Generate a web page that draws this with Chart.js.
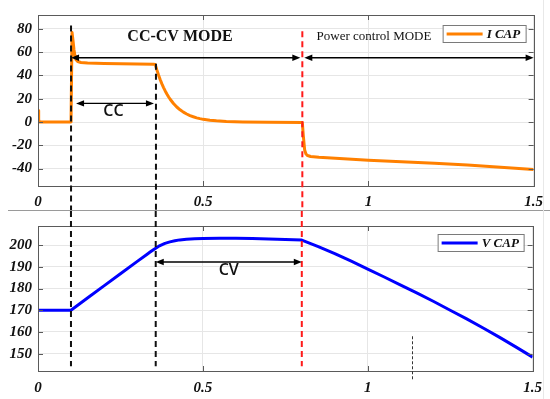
<!DOCTYPE html>
<html>
<head>
<meta charset="utf-8">
<script src="https://cdn.jsdelivr.net/npm/chart.js@4.4.1/dist/chart.umd.min.js"></script>
<style>
  html, body { margin:0; padding:0; background:#fff; }
  #wrap { position:relative; width:550px; height:399px; overflow:hidden; background:#fff; }
  canvas { position:absolute; left:0; }
  #sep { position:absolute; left:8px; top:210px; width:542px; height:0; border-top:1.5px solid #9a9a9a; }
  #edge { position:absolute; left:543px; top:0; width:0; height:399px; border-left:1px solid #e8e8e8; }
</style>
</head>
<body>
<div id="wrap">
  <canvas id="top" width="550" height="210" style="top:0"></canvas>
  <div id="sep"></div>
  <canvas id="bot" width="550" height="188" style="top:211px"></canvas>
  <div id="edge"></div>
</div>
<script>
// ---------- data ----------
const xTicks = [0, 0.5, 1, 1.5];
const yTicksI = [-40, -20, 0, 20, 40, 60, 80];
const yTicksV = [150, 160, 170, 180, 190, 200];

const tI = [0, 0.002, 0.004, 0.099, 0.1, 0.103, 0.106, 0.109, 0.112, 0.115, 0.12, 0.13, 0.15, 0.2, 0.25, 0.3, 0.35, 0.355,
            0.36, 0.365, 0.37, 0.375, 0.38, 0.385, 0.39, 0.395, 0.4, 0.41, 0.42, 0.43, 0.44, 0.45, 0.46, 0.47, 0.48, 0.49,
            0.5, 0.52, 0.54, 0.57, 0.62, 0.7, 0.8,
            0.803, 0.807, 0.811, 0.816, 0.825, 0.85, 0.9, 1.0, 1.1, 1.2, 1.3, 1.4, 1.5];
const iCap = [10, 2, 0, 0, 0, 77, 70, 62, 56.5, 53.5, 52, 51.2, 50.7, 50.3, 50, 49.8, 49.6, 49.4,
              44.6, 40.3, 36.4, 32.8, 29.6, 26.7, 24.1, 21.7, 19.6, 15.9, 12.9, 10.5, 8.5, 6.9, 5.5, 4.5, 3.6, 2.9,
              2.3, 1.5, 1.0, 0.5, 0.1, -0.3, -0.5,
              -12, -24, -27.5, -28.8, -29.6, -30.3, -31.2, -32.8, -34.2, -35.5, -37, -38.8, -40.8];

const tV = [0, 0.1, 0.15, 0.2, 0.25, 0.3, 0.33, 0.34, 0.35, 0.357, 0.365, 0.375, 0.385, 0.4, 0.415, 0.43, 0.45, 0.475,
            0.5, 0.55, 0.6, 0.65, 0.7, 0.75, 0.8, 0.85, 0.9, 0.95, 1.0, 1.05, 1.1, 1.15, 1.2, 1.25, 1.3, 1.35, 1.4, 1.45, 1.5];
const vCap = [170, 170, 175.6, 181.2, 186.8, 192.4, 195.7, 196.8, 197.9, 198.6, 199.4, 200.1, 200.8, 201.5, 202, 202.4, 202.7, 202.9,
              203, 203.1, 203.1, 203, 202.8, 202.6, 202.3, 199.3, 196.1, 192.6, 188.9, 185.3, 181.6, 177.9, 174, 170, 166, 161.8, 157.5, 153, 148.4];

// annotation times (mode switches)
const tChargeStart = 0.1;
const tCvStart = 0.357;
const tPowerStart = 0.8;
const tMarker = 1.134;

// ---------- helpers ----------
const tickFont = { family: "'Liberation Serif', 'DejaVu Serif', serif", size: 15, weight: 'bold', style: 'italic' };
const boxColor = '#5a5a5a';

function arrowHead(ctx, x, y, dir) {
  ctx.beginPath();
  ctx.moveTo(x, y);
  ctx.lineTo(x - dir * 8, y - 3.2);
  ctx.lineTo(x - dir * 8, y + 3.2);
  ctx.closePath();
  ctx.fill();
}
function dblArrow(ctx, x1, x2, y) {
  ctx.save();
  ctx.strokeStyle = '#000'; ctx.fillStyle = '#000'; ctx.lineWidth = 1.4; ctx.setLineDash([]);
  ctx.beginPath(); ctx.moveTo(x1 + 3, y); ctx.lineTo(x2 - 3, y); ctx.stroke();
  arrowHead(ctx, x1, y, -1);
  arrowHead(ctx, x2, y, 1);
  ctx.restore();
}
function vDash(ctx, x, y1, y2, color, width, dash) {
  ctx.save();
  ctx.strokeStyle = color; ctx.lineWidth = width; ctx.setLineDash(dash);
  ctx.beginPath(); ctx.moveTo(x, y1); ctx.lineTo(x, y2); ctx.stroke();
  ctx.restore();
}

const boxPlugin = {
  id: 'matlabBox',
  afterDatasetsDraw(chart) {
    const { ctx, chartArea: a, scales } = chart;
    ctx.save();
    ctx.strokeStyle = boxColor; ctx.lineWidth = 1;
    ctx.strokeRect(Math.round(a.left) + 0.5, Math.round(a.top) + 0.5, Math.round(a.right - a.left), Math.round(a.bottom - a.top));
    ctx.beginPath();
    for (const v of xTicks) {
      const px = Math.round(scales.x.getPixelForValue(v)) + 0.5;
      ctx.moveTo(px, a.bottom); ctx.lineTo(px, a.bottom - 5);
      ctx.moveTo(px, a.top); ctx.lineTo(px, a.top + 5);
    }
    for (const t of scales.y.ticks) {
      const py = Math.round(scales.y.getPixelForValue(t.value)) + 0.5;
      ctx.moveTo(a.left, py); ctx.lineTo(a.left + 5, py);
      ctx.moveTo(a.right, py); ctx.lineTo(a.right - 5, py);
    }
    ctx.stroke();
    ctx.restore();
  }
};

function legendBox(ctx, x1, y1, x2, y2, color, text) {
  ctx.save();
  ctx.fillStyle = '#fff'; ctx.fillRect(x1, y1, x2 - x1, y2 - y1);
  ctx.strokeStyle = '#7a7a7a'; ctx.lineWidth = 1;
  ctx.strokeRect(x1 + 0.5, y1 + 0.5, x2 - x1, y2 - y1);
  const yc = (y1 + y2) / 2 + 0.5;
  ctx.strokeStyle = color; ctx.lineWidth = 3;
  ctx.beginPath(); ctx.moveTo(x1 + 4, yc); ctx.lineTo(x1 + 40, yc); ctx.stroke();
  ctx.fillStyle = '#111';
  ctx.font = "italic bold 13px 'Liberation Serif', serif";
  ctx.textBaseline = 'middle'; ctx.textAlign = 'left';
  ctx.fillText(text, x1 + 44, yc + 1);
  ctx.restore();
}

const topAnnot = {
  id: 'topAnnot',
  afterDatasetsDraw(chart) {
    const { ctx, chartArea: a, scales: { x, y } } = chart;
    const H = chart.height;
    vDash(ctx, x.getPixelForValue(tChargeStart), y.getPixelForValue(83), H, '#111', 2, [6, 4]);
    vDash(ctx, x.getPixelForValue(tCvStart), y.getPixelForValue(50), H, '#111', 2, [6, 4]);
    vDash(ctx, x.getPixelForValue(tPowerStart), y.getPixelForValue(78), H, '#ff1a1a', 2, [6, 4]);
    const ya = y.getPixelForValue(55.2);
    dblArrow(ctx, x.getPixelForValue(tChargeStart), x.getPixelForValue(tPowerStart) - 2, ya);
    dblArrow(ctx, x.getPixelForValue(tPowerStart) + 2, x.getPixelForValue(1.5), ya);
    dblArrow(ctx, x.getPixelForValue(tChargeStart) + 5, x.getPixelForValue(tCvStart) - 2, y.getPixelForValue(16));
    ctx.save();
    ctx.fillStyle = '#111'; ctx.textBaseline = 'middle'; ctx.textAlign = 'center';
    ctx.font = "bold 16px 'Liberation Serif', serif";
    ctx.fillText('CC-CV MODE', 180, 37);
    ctx.font = "13px 'Liberation Serif', serif";
    ctx.fillText('Power control MODE', 374, 37);
    ctx.font = "600 16px 'Open Sans', 'Liberation Sans', sans-serif";
    ctx.fillText('CC', (x.getPixelForValue(tChargeStart) + x.getPixelForValue(tCvStart)) / 2, y.getPixelForValue(9.5));
    ctx.restore();
    legendBox(ctx, a.right - 91, a.top + 10, a.right - 8, a.top + 27, '#ff8000', 'I CAP');
  }
};

const botAnnot = {
  id: 'botAnnot',
  afterDatasetsDraw(chart) {
    const { ctx, chartArea: a, scales: { x, y } } = chart;
    vDash(ctx, x.getPixelForValue(tChargeStart), 0, y.getPixelForValue(144.2), '#111', 2, [6, 4]);
    vDash(ctx, x.getPixelForValue(tCvStart), 0, y.getPixelForValue(144.2), '#111', 2, [6, 4]);
    vDash(ctx, x.getPixelForValue(tPowerStart), 0, y.getPixelForValue(144.2), '#ff1a1a', 2, [6, 4]);
    vDash(ctx, Math.round(x.getPixelForValue(tMarker)) + 0.5, y.getPixelForValue(158), a.bottom + 9, '#333', 1, [3, 2]);
    const ya = y.getPixelForValue(192.2);
    dblArrow(ctx, x.getPixelForValue(tCvStart), x.getPixelForValue(tPowerStart), ya);
    ctx.save();
    ctx.fillStyle = '#111'; ctx.textBaseline = 'middle'; ctx.textAlign = 'center';
    ctx.font = "600 16px 'Open Sans', 'Liberation Sans', sans-serif";
    ctx.fillText('CV', (x.getPixelForValue(tCvStart) + x.getPixelForValue(tPowerStart)) / 2, ya + 8);
    ctx.restore();
    legendBox(ctx, a.right - 95, a.top + 8, a.right - 9, a.top + 25, '#0000ff', 'V CAP');
  }
};

function xScale(h, pad) {
  return {
    type: 'linear', min: 0, max: 1.5,
    afterBuildTicks: s => { s.ticks = xTicks.map(v => ({ value: v })); },
    afterFit: s => { s.height = h; },
    grid: { color: '#e6e6e6', drawTicks: false, lineWidth: 1 },
    border: { display: false },
    ticks: { font: tickFont, color: '#111', padding: pad, maxRotation: 0, autoSkip: false, callback: v => String(v) }
  };
}
function yScale(min, max, ticks) {
  return {
    min, max,
    afterBuildTicks: s => { s.ticks = ticks.map(v => ({ value: v })); },
    afterFit: s => { s.width = 38; },
    grid: { color: '#e6e6e6', drawTicks: false, lineWidth: 1 },
    border: { display: false },
    ticks: { font: tickFont, color: '#111', padding: 6, autoSkip: false, callback: v => String(v) }
  };
}
function baseOpts(padTop, xh, xpad, ymin, ymax, yt) {
  return {
    responsive: false, animation: false, devicePixelRatio: 1,
    layout: { padding: { left: 0, right: 16, top: padTop, bottom: 0 } },
    plugins: { legend: { display: false }, tooltip: { enabled: false } },
    scales: { x: xScale(xh, xpad), y: yScale(ymin, ymax, yt) }
  };
}

new Chart(document.getElementById('top'), {
  type: 'line',
  data: { datasets: [{ label: 'I CAP', data: tI.map((t, i) => ({ x: t, y: iCap[i] })),
    borderColor: '#ff8000', borderWidth: 3, pointRadius: 0, fill: false, tension: 0, borderJoinStyle: 'round' }] },
  options: baseOpts(15, 24, 7, -55, 92, yTicksI),
  plugins: [boxPlugin, topAnnot]
});

new Chart(document.getElementById('bot'), {
  type: 'line',
  data: { datasets: [{ label: 'V CAP', data: tV.map((t, i) => ({ x: t, y: vCap[i] })),
    borderColor: '#0000ff', borderWidth: 3, pointRadius: 0, fill: false, tension: 0, borderJoinStyle: 'round' }] },
  options: baseOpts(9, 28, 8, 142, 208.8, yTicksV),
  plugins: [boxPlugin, botAnnot]
});
</script>
</body>
</html>
